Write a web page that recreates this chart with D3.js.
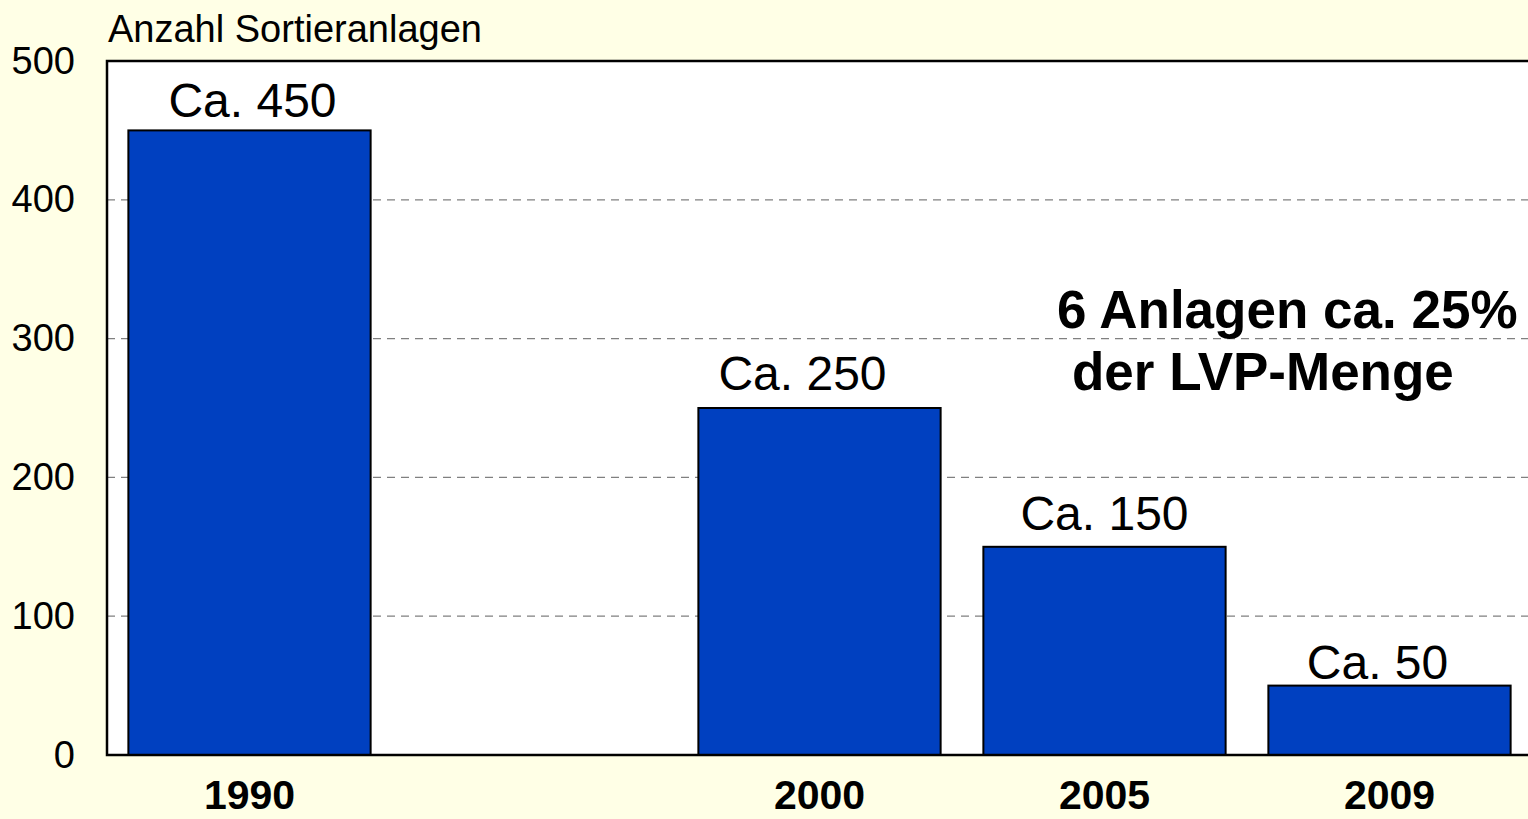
<!DOCTYPE html>
<html>
<head>
<meta charset="utf-8">
<script src="https://cdn.jsdelivr.net/npm/d3@7"></script>
<style>
  body { margin: 0; background: #ffffe6; }
  svg { display: block; font-family: "Liberation Sans", Arial, sans-serif; }
</style>
</head>
<body>
<svg id="chart" width="1528" height="819"></svg>
<script>
const slots = ["1990", "1995", "2000", "2005", "2009"];
const years = ["1990", "2000", "2005", "2009"];
const counts = [450, 250, 150, 50];
const valueLabels = ["Ca. 450", "Ca. 250", "Ca. 150", "Ca. 50"];
const yTicks = [0, 100, 200, 300, 400, 500];
const note = ["6 Anlagen ca. 25%", "der LVP-Menge"];

// label nudges as placed in the original slide
const labelDx = [3, -17, 0, -12];
const labelGap = [13, 18, 17, 7];

const svg = d3.select("#chart");
const plot = { left: 107, top: 61, right: 1532, bottom: 755 };

const x = d3.scaleBand().domain(slots).range([plot.left, plot.right]).paddingInner(0.15).paddingOuter(0.075);
const y = d3.scaleLinear().domain([0, 500]).range([plot.bottom, plot.top]);

svg.append("rect")
  .attr("x", plot.left).attr("y", plot.top)
  .attr("width", plot.right - plot.left).attr("height", plot.bottom - plot.top)
  .attr("fill", "#fff");

// gridlines
svg.append("g").selectAll("line")
  .data(yTicks.filter(d => d > 0 && d < 500))
  .join("line")
  .attr("x1", plot.left).attr("x2", plot.right)
  .attr("y1", d => y(d)).attr("y2", d => y(d))
  .attr("stroke", "#808080").attr("stroke-width", 1.2)
  .attr("stroke-dasharray", "8,6");

const data = years.map((yr, i) => ({ yr, v: counts[i], label: valueLabels[i], dx: labelDx[i], gap: labelGap[i] }));

svg.append("g").selectAll("rect")
  .data(data)
  .join("rect")
  .attr("x", d => x(d.yr))
  .attr("y", d => y(d.v))
  .attr("width", x.bandwidth())
  .attr("height", d => y(0) - y(d.v))
  .attr("fill", "#0040c0")
  .attr("stroke", "#000").attr("stroke-width", 2);

svg.append("g").selectAll("text")
  .data(data)
  .join("text")
  .attr("x", d => x(d.yr) + x.bandwidth() / 2 + d.dx)
  .attr("y", d => y(d.v) - d.gap)
  .attr("text-anchor", "middle")
  .attr("font-size", 48)
  .text(d => d.label);

// frame lines: top, left, bottom
svg.append("path")
  .attr("d", `M${plot.right},${plot.top}H${plot.left}V${plot.bottom}H${plot.right}`)
  .attr("fill", "none").attr("stroke", "#000").attr("stroke-width", 2.5);

// y axis labels
const yAxis = d3.axisLeft(y).tickValues(yTicks).tickSize(0).tickPadding(32);
const gy = svg.append("g").attr("transform", `translate(${plot.left},0)`).call(yAxis);
gy.select(".domain").remove();
gy.selectAll("text").attr("font-size", 38).attr("fill", "#000")
  .attr("font-family", "Liberation Sans, Arial, sans-serif");

// x axis labels
const xAxis = d3.axisBottom(x).tickValues(years).tickSize(0).tickPadding(25);
const gx = svg.append("g").attr("transform", `translate(0,${plot.bottom})`).call(xAxis);
gx.select(".domain").remove();
gx.selectAll("text").attr("font-size", 41).attr("font-weight", "bold").attr("fill", "#000")
  .attr("font-family", "Liberation Sans, Arial, sans-serif");

svg.append("text")
  .attr("x", 108).attr("y", 42)
  .attr("font-size", 38)
  .text("Anzahl Sortieranlagen");

svg.append("g").selectAll("text")
  .data(note)
  .join("text")
  .attr("x", (d, i) => i === 0 ? 1057 : 1072)
  .attr("y", (d, i) => 328 + i * 62)
  .attr("font-size", 53).attr("font-weight", "bold")
  .text(d => d);
</script>
</body>
</html>
